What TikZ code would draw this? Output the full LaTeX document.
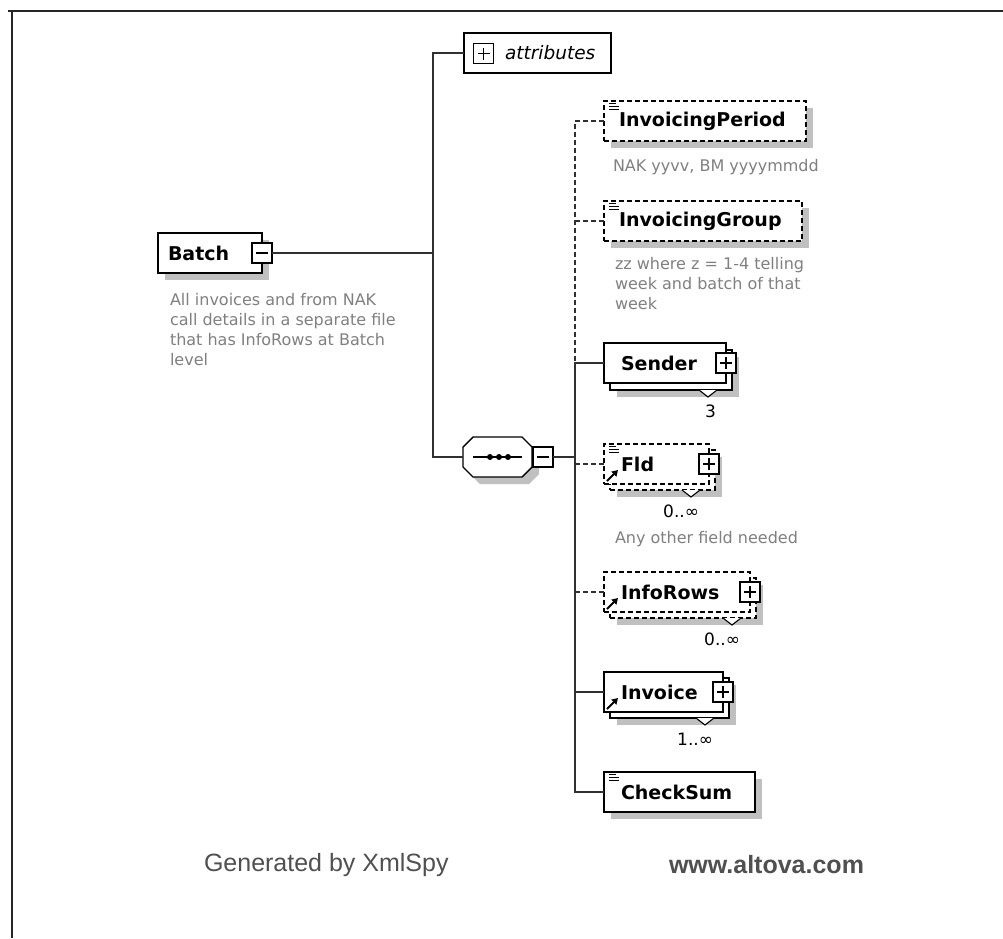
\documentclass[tikz,border=0pt]{standalone}
\usepackage{fontspec}
\setmainfont{DejaVu Sans}[BoldFont={DejaVu Sans Bold},ItalicFont={DejaVu Sans Oblique}]
\newfontfamily\footfont{Liberation Sans}
\usetikzlibrary{shadows,arrows.meta}
\definecolor{shadowgray}{HTML}{C0C0C0}
\definecolor{descgray}{HTML}{808080}
\definecolor{conncol}{HTML}{303030}
\definecolor{footgray}{HTML}{505050}
\newcommand\simicon[1]{%
  \draw[line width=1pt] ([xshift=5pt,yshift=-2pt]#1.north west) -- ++(7,0);
  \draw[line width=1pt] ([xshift=5pt,yshift=-5pt]#1.north west) -- ++(10,0);
  \draw[line width=1pt] ([xshift=5pt,yshift=-8pt]#1.north west) -- ++(10,0);}
\newcommand\refarrow[1]{%
  \draw[line width=2pt,-{Triangle[length=6pt,width=7pt]}] ([xshift=3pt,yshift=3pt]#1.south west) -- ++(11,-11);}
\newcommand\notch[2]{%
  \fill[white] (#1-9,#2) -- (#1,#2+7) -- (#1+9,#2) -- cycle;
  \draw[line width=1.1pt] (#1-9,#2) -- (#1,#2+7) -- (#1+9,#2);}
\begin{document}
\begin{tikzpicture}[x=1pt,y=-1pt,
  every node/.style={inner sep=0pt,outer sep=0pt},
  elbox/.style={draw=black,line width=1.4pt,fill=white,minimum height=40pt},
  shad/.style={drop shadow={shadow xshift=7pt,shadow yshift=-7pt,fill=shadowgray,opacity=1}},
  optbox/.style={dash pattern=on 5pt off 3pt},
  elname/.style={font=\fontsize{19}{22}\selectfont\bfseries,anchor=west},
  desc/.style={font=\fontsize{16}{20}\selectfont,text=descgray,align=left,anchor=north west},
  mult/.style={font=\fontsize{17}{20}\selectfont,text=black,anchor=east},
  conn/.style={draw=conncol,line width=1.8pt},
  dconn/.style={conn,dash pattern=on 5pt off 3pt},
  pmbase/.style={draw=black,line width=1.2pt,fill=white,minimum width=20pt,minimum height=20pt},
  minusbox/.style={pmbase,path picture={\draw[line width=1.2pt] ([xshift=4pt]path picture bounding box.west) -- ([xshift=-4pt]path picture bounding box.east);}},
  plusbox/.style={pmbase,path picture={\draw[line width=1.2pt] ([xshift=4pt]path picture bounding box.west) -- ([xshift=-4pt]path picture bounding box.east); \draw[line width=1.2pt] ([yshift=4pt]path picture bounding box.south) -- ([yshift=-4pt]path picture bounding box.north);}},
]
\useasboundingbox (0,0) rectangle (1003,938);
\fill[white] (0,0) rectangle (1003,938);
% frame
\draw[line width=2pt,black!85] (8,11) -- (1003,11);
\draw[line width=2pt,black!85] (12,11) -- (12,938);

% Batch
\node[elbox,shad,minimum width=104pt] (batch) at (210,253) {};
\node[elname] (batchT) at (168,253) {Batch};
\node[minusbox] (batchM) at (batch.east) {};
\node[desc] (batchD) at (170,293.5) {All invoices and from NAK\\call details in a separate file\\that has InfoRows at Batch\\level};

% attributes
\node[elbox,minimum width=147pt] (attr) at (537.5,53) {};
\node[plusbox] (attrP) at (483.5,53.5) {};
\node[font=\fontsize{18.5}{22}\selectfont\itshape,anchor=west] (attrT) at (505,53) {attributes};

% sequence compositor
\node[minimum width=69pt,minimum height=40pt] (seq) at (497.5,457) {};
\begin{scope}[shift={(7,7)}]
\fill[shadowgray] (473,437) -- (522,437) -- (532,447) -- (532,467) -- (522,477) -- (473,477) -- (463,467) -- (463,447) -- cycle;
\end{scope}
\draw[line width=1.4pt,fill=white] (473,437) -- (522,437) -- (532,447) -- (532,467) -- (522,477) -- (473,477) -- (463,467) -- (463,447) -- cycle;
\draw[line width=1.6pt] (473,457) -- (522,457);
\fill (490,457) circle (3);
\fill (499,457) circle (3);
\fill (508,457) circle (3);
\node[minusbox] (seqM) at (543,457) {};

% InvoicingPeriod
\node[elbox,optbox,shad,minimum width=202pt] (ip) at (705,121) {};
\node[elname] (ipT) at (619,121) {InvoicingPeriod};
\simicon{ip}
\node[desc] (ipD) at (613,159) {NAK yyvv, BM yyyymmdd};

% InvoicingGroup
\node[elbox,optbox,shad,minimum width=198pt] (ig) at (703,221) {};
\node[elname] (igT) at (619,221) {InvoicingGroup};
\simicon{ig}
\node[desc] (igD) at (615,257.5) {zz where z = 1-4 telling\\week and batch of that\\week};

% Sender
\node[elbox,shad,minimum width=122pt] (senderB) at (671,370) {};
\notch{708}{390}
\node[elbox,minimum width=122pt] (sender) at (665,363) {};
\node[elname] (senderT) at (621,363) {Sender};
\node[plusbox] (senderP) at (sender.east) {};
\node[mult] (senderM) at (716,411) {3};

% Fld
\node[elbox,optbox,shad,minimum width=105pt] (fldB) at (662.5,470) {};
\notch{691}{490}
\node[elbox,optbox,minimum width=105pt] (fld) at (656.5,464) {};
\node[elname] (fldT) at (621,464) {Fld};
\simicon{fld}
\refarrow{fld}
\node[plusbox] (fldP) at (fld.east) {};
\node[mult] (fldM) at (699,511) {0..∞};
\node[desc] (fldD) at (615,531.5) {Any other field needed};

% InfoRows
\node[elbox,optbox,shad,minimum width=146pt] (irB) at (683,598) {};
\notch{732}{618}
\node[elbox,optbox,minimum width=146pt] (ir) at (677,592) {};
\node[elname] (irT) at (621,592) {InfoRows};
\refarrow{ir}
\node[plusbox] (irP) at (ir.east) {};
\node[mult] (irM) at (740,639) {0..∞};

% Invoice
\node[elbox,shad,minimum width=119pt] (invB) at (669.5,698) {};
\notch{705}{718}
\node[elbox,minimum width=119pt] (inv) at (663.5,692) {};
\node[elname] (invT) at (621,692) {Invoice};
\refarrow{inv}
\node[plusbox] (invP) at (inv.east) {};
\node[mult] (invM) at (713,739) {1..∞};

% CheckSum
\node[elbox,shad,minimum width=151pt] (cs) at (679.5,792) {};
\node[elname] (csT) at (621,792) {CheckSum};
\simicon{cs}

% connectors
\coordinate (hub) at (433,253);
\coordinate (vtop) at (575,121);
\draw[conn] (batchM.east) -- (hub);
\draw[conn] (attr.west) -- (hub |- attr.west) -- (hub |- seq.west) -- (seq.west);
\draw[dconn] (ip.west) -- (vtop) -- (vtop |- sender.west);
\draw[dconn] (ig.west) -- (vtop |- ig.west);
\draw[conn] (sender.west) -- (vtop |- sender.west) -- (vtop |- cs.west) -- (cs.west);
\draw[conn] (seqM.east) -- (vtop |- seqM.east);
\draw[dconn] (fld.west) -- (vtop |- fld.west);
\draw[dconn] (ir.west) -- (vtop |- ir.west);
\draw[conn] (inv.west) -- (vtop |- inv.west);

% footer
\node[font=\footfont\fontsize{25}{28}\selectfont,text=footgray,anchor=west] (gen) at (204,865) {Generated by XmlSpy};
\node[font=\footfont\fontsize{25}{28}\selectfont\bfseries,text=footgray,anchor=west] (www) at (669,865) {www.altova.com};
\end{tikzpicture}
\end{document}
